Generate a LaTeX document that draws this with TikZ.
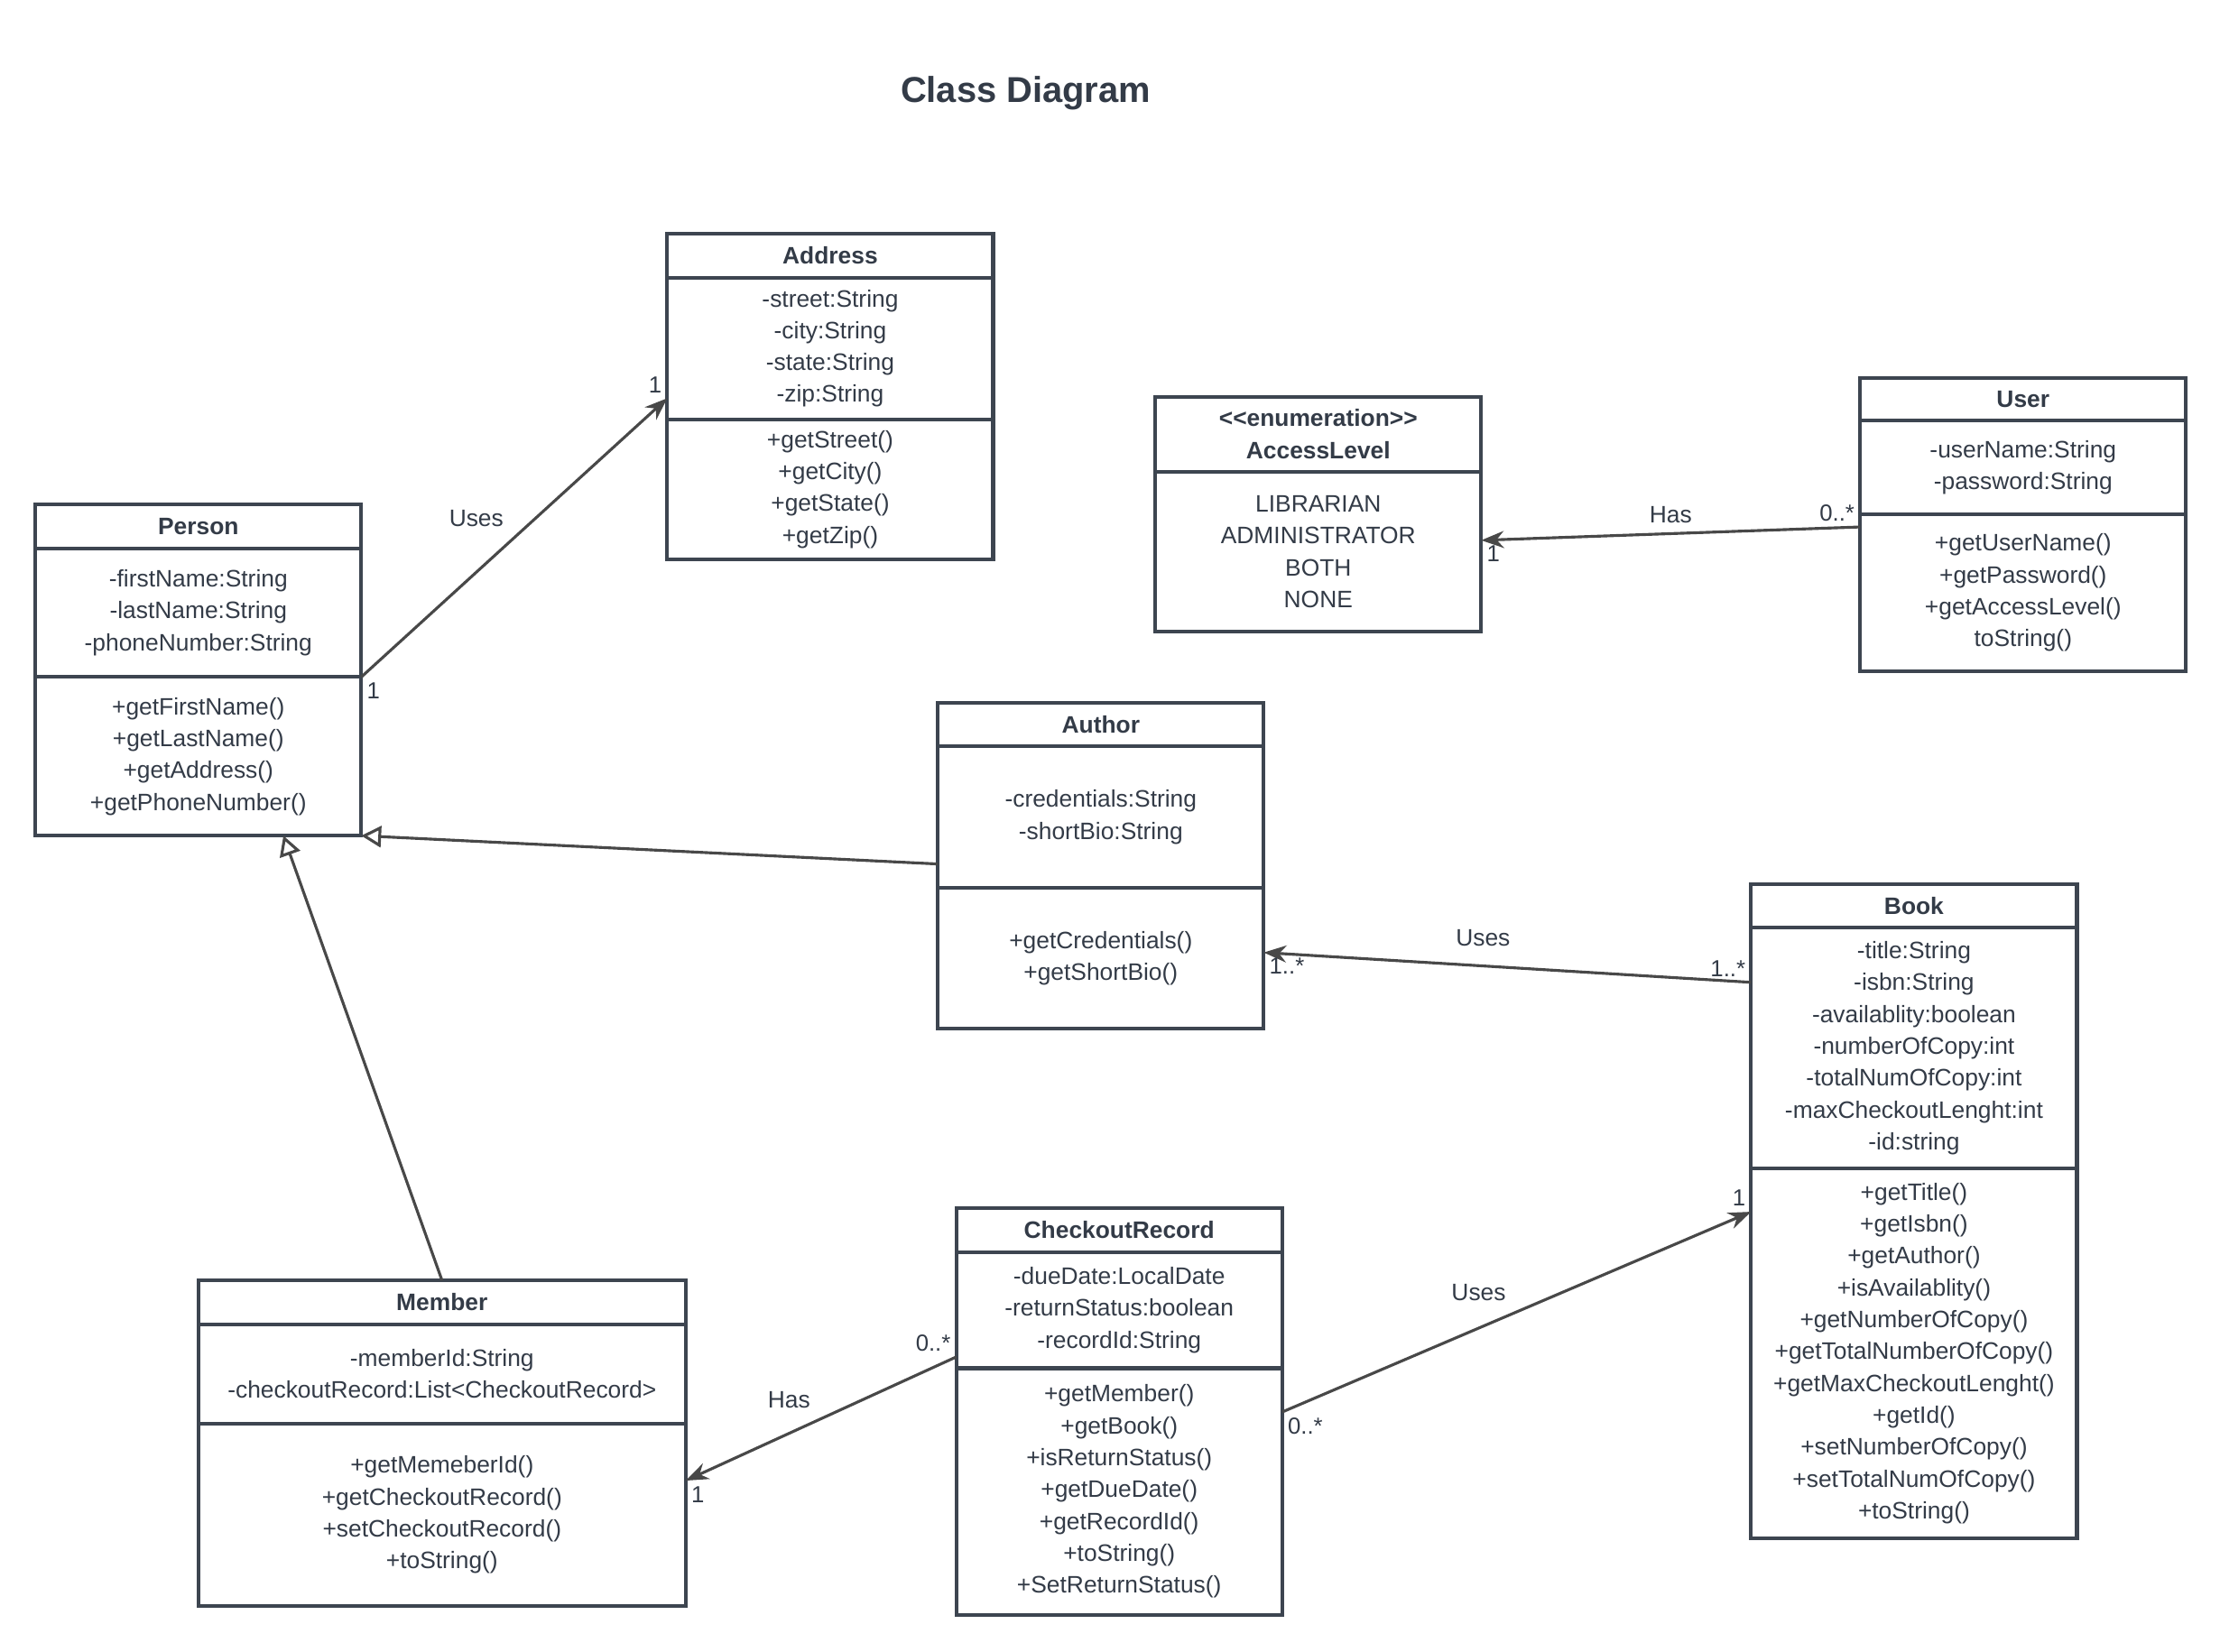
\documentclass[tikz,border=0pt]{standalone}
\usepackage{fontspec}
\setmainfont{Liberation Sans}
\usetikzlibrary{positioning,arrows.meta}
\definecolor{boxline}{HTML}{3D4550}
\definecolor{textcol}{HTML}{333B47}
\definecolor{arrowline}{HTML}{484848}

\begin{document}
\begin{tikzpicture}[x=0.5pt,y=-0.5pt,
  every node/.style={text=textcol,font=\fontsize{8.4}{11.25}\selectfont},
  classhead/.style={draw=boxline,line width=1.3pt,fill=white,outer sep=0pt,inner sep=0pt,
    minimum width=115pt,minimum height=15.5pt,anchor=north,align=center,
    font=\fontsize{8.4}{11.25}\selectfont\bfseries},
  classpart/.style={draw=boxline,line width=1.3pt,fill=white,outer sep=0pt,inner sep=0pt,
    minimum width=115pt,align=center},
  assoc/.style={draw=arrowline,line width=1pt,-{Stealth[length=8pt,width=6pt]}},
  inherit/.style={draw=arrowline,line width=1pt,-{Triangle[open,length=7pt,width=7.5pt]}},
  mult/.style={inner sep=1.5pt,font=\fontsize{8.2}{10}\selectfont}]
  \path[fill=white,use as bounding box] (0,0) rectangle (1567,1166);

  \node[font=\fontsize{12.7}{15}\selectfont\bfseries] (title) at (724,66) {Class Diagram};

  \node[classhead] (address) at (586,165) {Address};
  \node[classpart,below=0pt of address,minimum height=50pt] (address-attr)
    {-street:String\\-city:String\\-state:String\\-zip:String};
  \node[classpart,below=0pt of address-attr,minimum height=49.5pt] (address-meth)
    {+getStreet()\\+getCity()\\+getState()\\+getZip()};

  \node[classhead] (person) at (140,356) {Person};
  \node[classpart,below=0pt of person,minimum height=45.5pt] (person-attr)
    {-firstName:String\\-lastName:String\\-phoneNumber:String};
  \node[classpart,below=0pt of person-attr,minimum height=56pt] (person-meth)
    {+getFirstName()\\+getLastName()\\+getAddress()\\+getPhoneNumber()};

  \node[classhead,minimum height=26.5pt] (access) at (930.5,280) {<{}<enumeration>{}>\\AccessLevel};
  \node[classpart,below=0pt of access,minimum height=56.5pt] (access-val)
    {LIBRARIAN\\ADMINISTRATOR\\BOTH\\NONE};

  \node[classhead,minimum height=15pt] (user) at (1428,267) {User};
  \node[classpart,below=0pt of user,minimum height=33pt] (user-attr)
    {-userName:String\\-password:String};
  \node[classpart,below=0pt of user-attr,minimum height=55.5pt] (user-meth)
    {+getUserName()\\+getPassword()\\+getAccessLevel()\\toString()};

  \node[classhead] (author) at (777,496) {Author};
  \node[classpart,below=0pt of author,minimum height=50pt] (author-attr)
    {-credentials:String\\-shortBio:String};
  \node[classpart,below=0pt of author-attr,minimum height=49.5pt] (author-meth)
    {+getCredentials()\\+getShortBio()};

  \node[classhead] (book) at (1351,624) {Book};
  \node[classpart,below=0pt of book,minimum height=85pt] (book-attr)
    {-title:String\\-isbn:String\\-availablity:boolean\\-numberOfCopy:int\\
     -totalNumOfCopy:int\\-maxCheckoutLenght:int\\-id:string};
  \node[classpart,below=0pt of book-attr,minimum height=130.5pt] (book-meth)
    {+getTitle()\\+getIsbn()\\+getAuthor()\\+isAvailablity()\\+getNumberOfCopy()\\
     +getTotalNumberOfCopy()\\+getMaxCheckoutLenght()\\+getId()\\+setNumberOfCopy()\\
     +setTotalNumOfCopy()\\+toString()};

  \node[classhead] (record) at (790,853) {CheckoutRecord};
  \node[classpart,below=0pt of record,minimum height=41pt] (record-attr)
    {-dueDate:LocalDate\\-returnStatus:boolean\\-recordId:String};
  \node[classpart,below=0pt of record-attr,minimum height=87pt] (record-meth)
    {+getMember()\\+getBook()\\+isReturnStatus()\\+getDueDate()\\+getRecordId()\\
     +toString()\\+SetReturnStatus()};

  \node[classhead,minimum width=172pt] (member) at (312,904) {Member};
  \node[classpart,below=0pt of member,minimum width=172pt,minimum height=35pt] (member-attr)
    {-memberId:String\\-checkoutRecord:List<CheckoutRecord>};
  \node[classpart,below=0pt of member-attr,minimum width=172pt,minimum height=64.5pt] (member-meth)
    {+getMemeberId()\\+getCheckoutRecord()\\+setCheckoutRecord()\\+toString()};

  \draw[assoc] (person-attr.south east) -- (address-attr.197)
    node[midway,above left] {Uses}
    node[mult,at start,anchor=north west] {1}
    node[mult,at end,anchor=south east] {1};
  \draw[assoc] (user-meth.158) -- (access-val.4)
    node[midway,above] {Has}
    node[mult,at start,anchor=south east] {0..*}
    node[mult,at end,anchor=north west] {1};
  \draw[inherit] (author-attr.196) -- (person-meth.south east);
  \draw[inherit] (member.north) -- (person-meth.-43);
  \draw[assoc] (book-attr.158) -- (author-meth.2)
    node[pos=0.55,above=3pt] {Uses}
    node[mult,at start,anchor=south east] {1..*}
    node[mult,at end,anchor=north west] {1..*};
  \draw[assoc] (record-meth.26) -- (book-meth.139)
    node[midway,above left] {Uses}
    node[mult,at start,anchor=north west] {0..*}
    node[mult,at end,anchor=south east] {1};
  \draw[assoc] (record-attr.196) -- (member-meth.8)
    node[midway,above left] {Has}
    node[mult,at start,anchor=south east] {0..*}
    node[mult,at end,anchor=north west] {1};
\end{tikzpicture}
\end{document}
